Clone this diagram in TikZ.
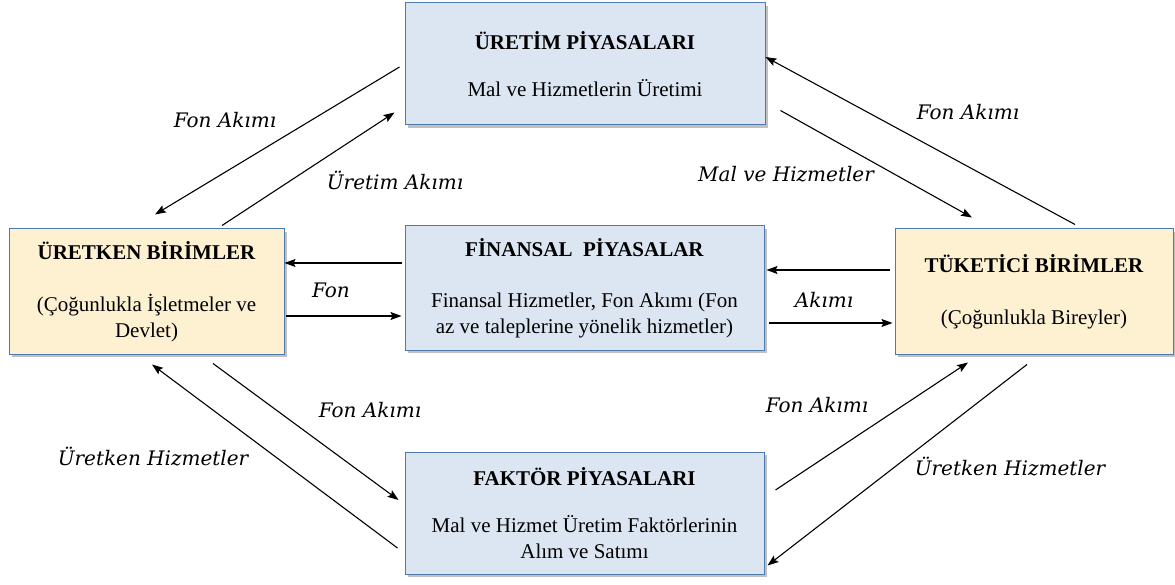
\documentclass[tikz,border=0pt]{standalone}
\usepackage{fontspec}
\setmainfont{Liberation Serif}
\newfontfamily\labelfont{DejaVu Serif}
\usetikzlibrary{arrows.meta,shadows,calc}
\definecolor{boxblue}{HTML}{DCE6F2}
\definecolor{boxcream}{HTML}{FDF1D2}
\definecolor{boxline}{HTML}{4F7AAE}
\tikzset{
  box/.style={draw=boxline, line width=1pt, align=center, inner sep=0pt,
    font=\fontsize{21}{26}\selectfont,
    drop shadow={shadow xshift=3pt, shadow yshift=-3pt, fill=black!45, opacity=.55}},
  bluebox/.style={box, fill=boxblue},
  creambox/.style={box, fill=boxcream},
  flow/.style={line width=1.1pt, -{Stealth[length=11pt,width=8pt,inset=2pt]}},
  lbl/.style={font=\labelfont\itshape\fontsize{20}{22}\selectfont, inner sep=0pt}
}
\newcommand{\ttl}[1]{\textbf{#1}}
\begin{document}
\begin{tikzpicture}[x=1pt,y=-1pt]
\useasboundingbox (0,0) rectangle (1175,585);
\node[bluebox, minimum width=360pt, minimum height=122pt] (top) at (585,64)
  {\ttl{ÜRETİM PİYASALARI}\\[21pt]Mal ve Hizmetlerin Üretimi};
\node[creambox, minimum width=275pt, minimum height=125pt] (left) at (146.5,291.5)
  {\ttl{ÜRETKEN BİRİMLER}\\[26pt](Çoğunlukla İşletmeler ve\\Devlet)};
\node[bluebox, minimum width=359pt, minimum height=124pt] (mid) at (584.5,288)
  {\ttl{FİNANSAL\ \ PİYASALAR}\\[25pt]Finansal Hizmetler, Fon Akımı (Fon\\az ve taleplerine yönelik hizmetler)};
\node[creambox, minimum width=278pt, minimum height=125pt] (right) at (1034,291.5)
  {\ttl{TÜKETİCİ BİRİMLER}\\[26pt](Çoğunlukla Bireyler)};
\node[bluebox, minimum width=359pt, minimum height=122pt] (bot) at (584.5,513)
  {\ttl{FAKTÖR PİYASALARI}\\[21pt]Mal ve Hizmet Üretim Faktörlerinin\\Alım ve Satımı};

% top left pair
\draw[flow] ($(top.west)+(-5,3)$) -- ($(left.north)+(8.5,-14)$);
\draw[flow] ($(left.north)+(75.5,-3)$) -- ($(top.south west)+(-10,-13)$);
% top right pair
\draw[flow] ($(top.south east)+(15,-15)$) -- ($(right.north)+(-62,-11)$);
\draw[flow] ($(right.north)+(41,-4)$) -- ($(top.east)+(0,-7)$);
% middle left
\draw[flow] ($(mid.west)+(-3,-25)$) -- ($(left.east)+(0,-28.5)$);
\draw[flow] ($(left.east)+(1,24.5)$) -- ($(mid.west)+(-3,28)$);
% middle right
\draw[flow] ($(right.west)+(-5,-21.5)$) -- ($(mid.east)+(2,-18)$);
\draw[flow] ($(mid.east)+(4,35)$) -- ($(right.west)+(-2,31.5)$);
% bottom left pair
\draw[flow] ($(left.south)+(66.5,9)$) -- ($(bot.west)+(-6,-13)$);
\draw[flow] ($(bot.west)+(-7,35)$) -- ($(left.south)+(5.5,10)$);
% bottom right pair
\draw[flow] ($(bot.east)+(11,-23)$) -- ($(right.south)+(-66,8)$);
\draw[flow] ($(right.south)+(-7,10)$) -- ($(bot.south east)+(3,-9)$);

\node[lbl] (l1) at (225,120) {Fon Akımı};
\node[lbl] (l2) at (395,180) {Üretim Akımı};
\node[lbl] (l3) at (786,174) {Mal ve Hizmetler};
\node[lbl] (l4) at (968,112) {Fon Akımı};
\node[lbl] (l5) at (331,290) {Fon};
\node[lbl] (l6) at (824,300) {Akımı};
\node[lbl] (l7) at (370,410) {Fon Akımı};
\node[lbl] (l8) at (153,457) {Üretken Hizmetler};
\node[lbl] (l9) at (817,405) {Fon Akımı};
\node[lbl] (l10) at (1010,467) {Üretken Hizmetler};
\end{tikzpicture}
\end{document}
